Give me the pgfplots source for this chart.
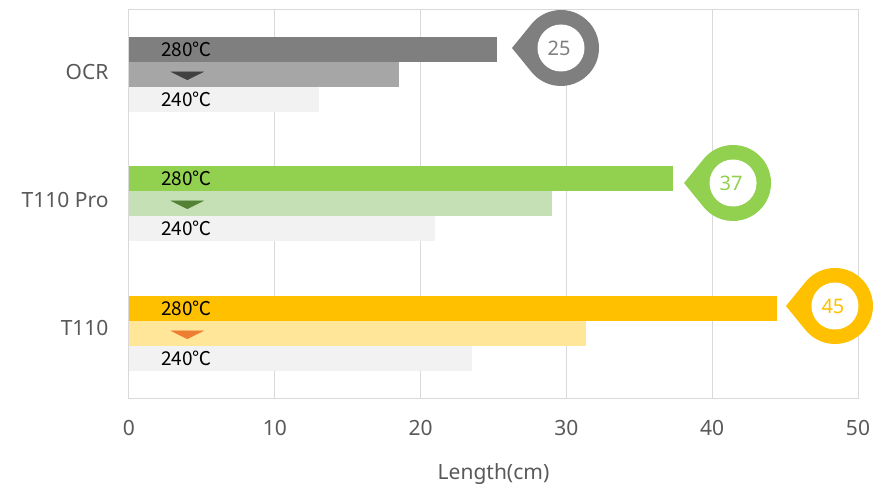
\documentclass[border=0pt]{standalone}
\usepackage{fontspec}
\setmainfont{Noto Sans}
\newfontfamily\cjk{Noto Sans CJK KR}
\usepackage{pgfplots}
\pgfplotsset{compat=1.18}
\definecolor{gridc}{HTML}{D9D9D9}
\definecolor{txt}{HTML}{595959}
\definecolor{ocrA}{HTML}{7F7F7F}
\definecolor{ocrB}{HTML}{A6A6A6}
\definecolor{lgray}{HTML}{F2F2F2}
\definecolor{proA}{HTML}{92D050}
\definecolor{proB}{HTML}{C5E0B4}
\definecolor{tA}{HTML}{FFC000}
\definecolor{tB}{HTML}{FFE699}
\definecolor{triO}{HTML}{404040}
\definecolor{triP}{HTML}{548235}
\definecolor{triT}{HTML}{ED7D31}
\pgfdeclareplotmark{pin}{%
  \pgfpathmoveto{\pgfpoint{-49pt}{0pt}}%
  \pgfpathlineto{\pgfpointpolar{140.8}{38pt}}%
  \pgfpatharc{140.8}{-140.8}{38pt}%
  \pgfpathclose
  \pgfusepathqfill
  \pgfsetfillcolor{white}%
  \pgfpathcircle{\pgfpointorigin}{23.5pt}%
  \pgfusepathqfill
}
\pgfplotsset{
  mybar/.style={xbar, bar width=25, bar shift=0pt, draw=none, fill=#1},
  mytri/.style={only marks, mark=triangle*, color=#1, mark size=10pt,
    mark options={rotate=180, xscale=1.85, yscale=0.53}},
  mypin/.style={only marks, mark=pin, color=#1, nodes near coords,
    point meta=explicit symbolic,
    nodes near coords style={anchor=center, xshift=-2pt, text=#1,
      font=\fontsize{20}{24}\selectfont}},
}
\begin{document}
\begin{tikzpicture}
\useasboundingbox (0,0) rectangle (892pt,491pt);
\begin{axis}[
  at={(129pt,93pt)}, anchor=south west,
  scale only axis, width=729pt, height=388pt,
  xmin=0, xmax=50, ymin=0, ymax=388,
  xtick={0,10,20,30,40,50},
  ytick={326,198,70}, yticklabels={OCR,T110 Pro,T110},
  xmajorgrids, grid style={gridc, line width=1pt},
  axis line style={gridc, line width=1pt},
  tick style={draw=none},
  /pgf/number format/assume math mode=true,
  ticklabel style={font=\fontsize{21}{25}\selectfont, text=txt},
  xticklabel style={yshift=-19pt},
  yticklabel style={xshift=-17pt},
  xlabel={Length(cm)},
  xlabel style={font=\fontsize{21}{25}\selectfont, text=txt,
    at={(axis description cs:0.5,0)}, anchor=center, yshift=-76pt},
  clip=false,
]
% OCR
\addplot[mybar=ocrA] coordinates {(25.24,348.5)};
\addplot[mybar=ocrB] coordinates {(18.5,323.5)};
\addplot[mybar=lgray] coordinates {(13.01,298.5)};
% T110 Pro
\addplot[mybar=proA] coordinates {(37.29,219.5)};
\addplot[mybar=proB] coordinates {(29.01,194.5)};
\addplot[mybar=lgray] coordinates {(20.99,169.5)};
% T110
\addplot[mybar=tA] coordinates {(44.46,89.5)};
\addplot[mybar=tB] coordinates {(31.34,64.5)};
\addplot[mybar=lgray] coordinates {(23.5,39.5)};
% triangles
\addplot[mytri=triO] coordinates {(4.0,323.5)};
\addplot[mytri=triP] coordinates {(4.0,194.5)};
\addplot[mytri=triT] coordinates {(4.0,64.5)};
% pins with value labels
\addplot[mypin=ocrA] coordinates {(29.63,350) [25]};
\addplot[mypin=proA] coordinates {(41.43,215) [37]};
\addplot[mypin=tA] coordinates {(48.42,92) [45]};
% bar labels
\foreach \yy in {348.5,219.5,89.5}{
  \edef\tmp{\noexpand\node[font=\noexpand\cjk\noexpand\fontsize{19}{22}\noexpand\selectfont, text=black] at (axis cs:3.95,\yy) {280℃};}\tmp
}
\foreach \yy in {298.5,169.5,39.5}{
  \edef\tmp{\noexpand\node[font=\noexpand\cjk\noexpand\fontsize{19}{22}\noexpand\selectfont, text=black] at (axis cs:3.95,\yy) {240℃};}\tmp
}
\end{axis}
\end{tikzpicture}
\end{document}
